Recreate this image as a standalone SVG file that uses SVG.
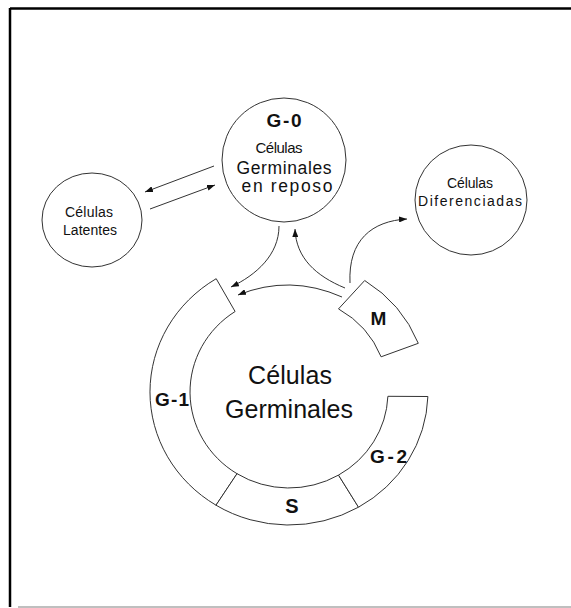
<svg xmlns="http://www.w3.org/2000/svg" width="571" height="608" viewBox="0 0 571 608">
<style>
text{font-family:"Liberation Sans",Arial,sans-serif;fill:#111;text-anchor:middle}
.b{font-weight:bold}
.shape{fill:none;stroke:#333;stroke-width:1}
.seg{fill:#fff;stroke:#333;stroke-width:1}
.con{fill:none;stroke:#333;stroke-width:1;marker-end:url(#ah)}
</style>
<defs>
<marker id="ah" viewBox="0 0 8 6" refX="8" refY="3" markerWidth="8" markerHeight="6" markerUnits="userSpaceOnUse" orient="auto"><path d="M0,0 L8,3 L0,6 z" fill="#111"/></marker>
</defs>
<rect width="571" height="608" fill="#fff"/>
<g id="frame">
<line x1="10" y1="8.5" x2="571" y2="8.5" stroke="#000" stroke-width="2.5"/>
<line x1="10" y1="8" x2="10" y2="607" stroke="#000" stroke-width="2.5"/>
<line x1="18" y1="607" x2="571" y2="607" stroke="#aaa" stroke-width="1.5"/>
</g>
<g id="connectors">
<path class="con" d="M214,166 L145,192"/>
<path class="con" d="M150,209 L215,185"/>
<path class="con" d="M279,226 C279,255 256,275 231,287"/>
<path class="con" d="M345,288 C316,276 296,258 295,229"/>
<path class="con" d="M350,283 C348,240 372,221 407,219"/>
<path class="con" d="M342,297 Q290,274 238,295"/>
</g>
<g id="g0">
<circle class="shape" cx="284" cy="160" r="62"/>
<text class="b" x="284" y="127" font-size="19" textLength="35" lengthAdjust="spacing">G-0</text>
<text x="279" y="153" font-size="15" textLength="47" lengthAdjust="spacing">Células</text>
<text x="284" y="174" font-size="17.5" textLength="95" lengthAdjust="spacing">Germinales</text>
<text x="287" y="192" font-size="17.5" textLength="91" lengthAdjust="spacing">en reposo</text>
</g>
<g id="latentes">
<ellipse class="shape" cx="92" cy="220" rx="50" ry="47"/>
<text x="89" y="217" font-size="14" textLength="48" lengthAdjust="spacing">Células</text>
<text x="90" y="235" font-size="14" textLength="54" lengthAdjust="spacing">Latentes</text>
</g>
<g id="diferenciadas">
<ellipse class="shape" cx="471" cy="200" rx="56" ry="55"/>
<text x="470" y="188" font-size="14" textLength="46" lengthAdjust="spacing">Células</text>
<text x="470" y="206" font-size="14" textLength="104" lengthAdjust="spacing">Diferenciadas</text>
</g>
<g id="g1">
<path class="seg" d="M216.2,278.7 A139,133 0 0 0 216,505.2 L237,473.7 A99,96 0 0 1 235.1,311.5 Z"/>
<text class="b" x="172" y="406" font-size="19" textLength="34" lengthAdjust="spacing">G-1</text>
</g>
<g id="s">
<path class="seg" d="M216,505.2 A139,133 0 0 0 358.5,507.2 L338.5,475.1 A99,96 0 0 1 237,473.7 Z"/>
<text class="b" x="292" y="513" font-size="20">S</text>
</g>
<g id="g2">
<path class="seg" d="M358.5,507.2 A139,133 0 0 0 427.9,396.5 L387.9,396.3 A99,96 0 0 1 338.5,475.1 Z"/>
<text class="b" x="388.5" y="463" font-size="19" textLength="37" lengthAdjust="spacing">G-2</text>
</g>
<g id="m">
<path class="seg" d="M364.7,280.5 A139,133 0 0 1 418.3,343.3 L381.1,356.8 A99,96 0 0 0 338.5,308.9 Z"/>
<text class="b" x="378.5" y="325" font-size="19">M</text>
</g>
<g id="germinales">
<text x="290" y="384" font-size="25" textLength="84" lengthAdjust="spacing">Células</text>
<text x="289" y="418" font-size="25" textLength="128" lengthAdjust="spacing">Germinales</text>
</g>
</svg>
